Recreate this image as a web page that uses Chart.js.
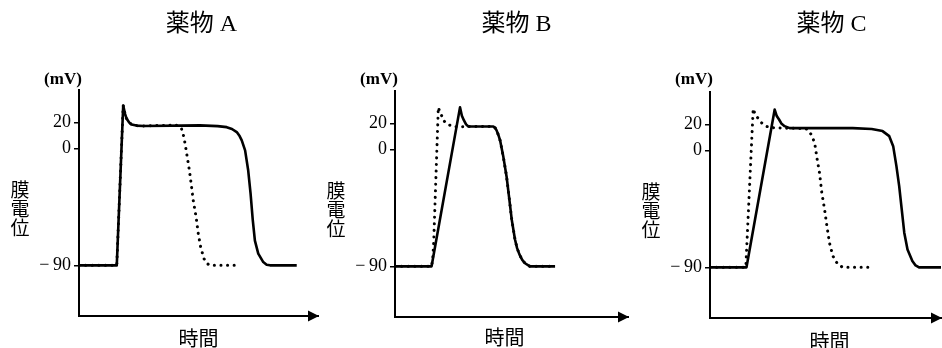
<!DOCTYPE html>
<html lang="ja">
<head>
<meta charset="utf-8">
<script src="https://cdn.jsdelivr.net/npm/chart.js@4.4.1/dist/chart.umd.min.js"></script>
<style>
  html, body { margin: 0; padding: 0; background: #fff; }
  body { width: 942px; height: 348px; position: relative; overflow: hidden; }
  canvas { position: absolute; top: 0; }
</style>
</head>
<body>
<canvas id="chartA" width="324" height="348" style="left:0px"></canvas>
<canvas id="chartB" width="308" height="348" style="left:324px"></canvas>
<canvas id="chartC" width="310" height="348" style="left:632px"></canvas>
<script>
// 目盛り (mV)
const yTicks = [20, 0, -90];
const titles = ['薬物 A', '薬物 B', '薬物 C'];

// 薬物A  時間は横軸を0〜100とした相対値
const aSolidT = [0, 15.8, 18.5, 19.2, 19.9, 21.0, 22.0, 24.0, 26.9, 50.6, 58.0, 61.8, 64.0, 66.0, 67.2, 68.1, 69.5, 70.8, 71.8, 72.7, 73.6, 75.0, 77.1, 78.5, 79.9, 91.1];
const aSolidV = [-90, -90, 33, 27, 23, 20, 18.5, 17.6, 17.3, 17.8, 17.2, 16.4, 15, 12.6, 9.5, 6.2, -1.5, -17, -35, -55, -71, -81, -87.5, -89.5, -90, -90];
const aDotT = [0, 15.8, 18.5, 19.2, 19.9, 21.0, 22.0, 24.0, 26.9, 40.5, 42.0, 42.9, 43.7, 44.4, 45.3, 46.2, 47.1, 47.8, 49.0, 49.9, 50.9, 52.3, 53.5, 54.8, 66.7];
const aDotV = [-90, -90, 33, 27, 23, 20, 18.5, 17.6, 17.3, 18.0, 17, 15.1, 10, 3.6, -6.7, -17, -29.7, -40, -52.8, -65.6, -75.9, -84.9, -88.5, -90, -90];

// 薬物B
const bSolidT = [0, 15.7, 27.9, 28.7, 29.6, 30.5, 31.5, 42.2, 43.0, 43.6, 44.4, 45.1, 46.5, 47.9, 49.1, 50.1, 51.5, 52.4, 53.4, 54.6, 55.8, 57.9, 68.7];
const bSolidV = [-90, -90, 32.4, 26, 22.3, 19.3, 17.7, 17.7, 16.5, 14.7, 11, 7, -5.7, -21, -38.8, -54, -69.3, -76, -80.8, -85, -87.6, -90, -90];
const bDotT = [0, 15.7, 16.2, 16.6, 18.6, 19.3, 20.0, 21.0, 22.2, 25.0, 42.2, 43.0, 43.6, 44.4, 45.1, 46.5, 47.9, 49.1, 50.1, 51.5, 52.4, 53.4, 54.6, 55.8, 57.9, 68.7];
const bDotV = [-90, -90, -84, -72, 32.4, 28.5, 26.1, 22, 19.7, 17.5, 17.7, 16.5, 14.7, 11, 7, -5.7, -21, -38.8, -54, -69.3, -76, -80.8, -85, -87.6, -90, -90];

// 薬物C
const cSolidT = [0, 15.8, 28.0, 28.9, 29.9, 31.0, 32.3, 34.5, 61.8, 70.0, 74.7, 77.6, 79.3, 80.7, 81.9, 83.0, 84.1, 85.5, 87.6, 89.0, 90.5, 100];
const cSolidV = [-90, -90, 31.5, 26.5, 23.8, 20.5, 18.7, 17.2, 17.2, 16.5, 14.9, 11, 3.3, -12.1, -27.5, -45.4, -63.3, -76.2, -85.1, -88.5, -90, -90];
const cDotT = [0, 15.5, 18.7, 19.4, 20.1, 22.3, 24.0, 25.9, 41.5, 42.4, 43.8, 45.3, 46.4, 47.4, 48.4, 49.6, 50.6, 51.7, 53.2, 55.3, 57.5, 69.0];
const cDotV = [-90, -90, 32.1, 28.5, 26.4, 21.3, 19, 17.5, 16.8, 15.6, 12.3, 5.9, -6.9, -17.2, -32.5, -45.4, -58.2, -71, -81.3, -87.7, -90, -90];

const toPoints = (t, v) => t.map((x, i) => ({ x: x, y: v[i] }));

// 見出し・軸ラベル・矢印
const panelText = {
  id: 'panelText',
  afterDraw(chart, args, opts) {
    const ctx = chart.ctx;
    const a = chart.chartArea;
    const cx = (a.left + a.right) / 2;
    ctx.save();
    ctx.fillStyle = '#000';
    ctx.textAlign = 'center';
    ctx.textBaseline = 'middle';

    ctx.beginPath();
    ctx.moveTo(a.right + 1, a.bottom);
    ctx.lineTo(a.right - 10, a.bottom - 5.5);
    ctx.lineTo(a.right - 10, a.bottom + 5.5);
    ctx.closePath();
    ctx.fill();

    ctx.font = '24px "Liberation Serif", "Noto Sans CJK JP"';
    ctx.fillText(opts.title, cx + opts.titleDx, 25);

    ctx.font = 'bold 17px "Liberation Serif"';
    ctx.fillText('(mV)', a.left - 16, 80);

    ctx.font = '19px "Noto Sans CJK JP"';
    const midY = (a.top + a.bottom) / 2 + 6;
    ['膜', '電', '位'].forEach((ch, i) => ctx.fillText(ch, a.left - 59, midY + (i - 1) * 19));

    ctx.font = '20px "Noto Sans CJK JP"';
    ctx.fillText('時間', cx + opts.xLabelDx, opts.xLabelY);
    ctx.restore();
  }
};

function makePanel(id, title, solidT, solidV, dotT, dotV, lay) {
  return new Chart(document.getElementById(id), {
    type: 'line',
    data: {
      datasets: [{
        label: title + ' 点線',
        data: toPoints(dotT, dotV),
        borderColor: '#000',
        borderWidth: 3,
        borderDash: [0.1, 6.5],
        borderCapStyle: 'round',
        pointRadius: 0,
        tension: 0,
        order: 2
      }, {
        label: title + ' 実線',
        data: toPoints(solidT, solidV),
        borderColor: '#000',
        borderWidth: 2.6,
        borderJoinStyle: 'round',
        pointRadius: 0,
        tension: 0,
        order: 1
      }]
    },
    options: {
      responsive: false,
      animation: false,
      devicePixelRatio: 1,
      layout: { padding: lay.padding },
      plugins: {
        legend: { display: false },
        tooltip: { enabled: false },
        panelText: { title: title, titleDx: lay.titleDx, xLabelDx: lay.xLabelDx, xLabelY: lay.xLabelY }
      },
      scales: {
        x: {
          type: 'linear',
          min: 0,
          max: 100,
          ticks: { display: false },
          grid: { display: false },
          border: { display: true, color: '#000', width: 2 },
          afterFit(s) { s.height = 0; }
        },
        y: {
          min: -129,
          max: 45,
          afterBuildTicks(s) { s.ticks = yTicks.map(v => ({ value: v })); },
          afterFit(s) { s.width = lay.yWidth; },
          ticks: {
            color: '#000',
            padding: 3,
            font: { family: 'Liberation Serif', size: 18 },
            callback: v => v < 0 ? '−\u2009' + Math.abs(v) : String(v)
          },
          grid: { drawOnChartArea: false, drawTicks: true, tickLength: 5, color: '#000', lineWidth: 1.5 },
          border: { display: true, color: '#000', width: 2 }
        }
      }
    },
    plugins: [panelText]
  });
}

makePanel('chartA', titles[0], aSolidT, aSolidV, aDotT, aDotV,
  { yWidth: 79, padding: { top: 90, right: 6, bottom: 32, left: 0 }, titleDx: 3, xLabelDx: 0, xLabelY: 338 });
makePanel('chartB', titles[1], bSolidT, bSolidV, bDotT, bDotV,
  { yWidth: 71, padding: { top: 91, right: 4, bottom: 31, left: 0 }, titleDx: 5, xLabelDx: -7, xLabelY: 337 });
makePanel('chartC', titles[2], cSolidT, cSolidV, cDotT, cDotV,
  { yWidth: 78, padding: { top: 92, right: 1, bottom: 30, left: 0 }, titleDx: 6, xLabelDx: 4, xLabelY: 341 });
</script>
</body>
</html>
